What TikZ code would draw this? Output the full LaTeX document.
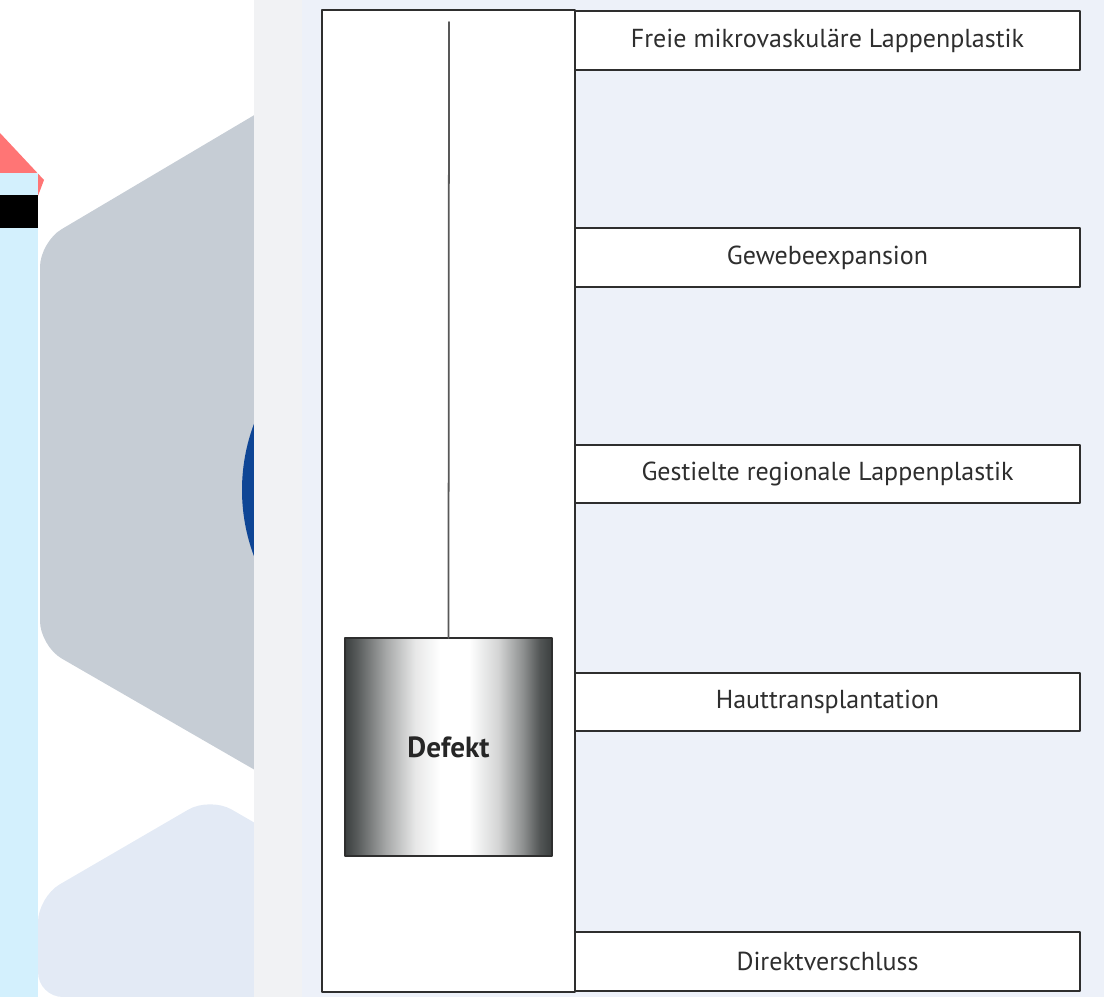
\documentclass[tikz,border=0pt]{standalone}
\usepackage{fontspec}
\setmainfont{PT Sans}
\definecolor{barblue}{HTML}{D3F0FD}
\definecolor{tipred}{HTML}{FF7575}
\definecolor{hexgray}{HTML}{C6CDD5}
\definecolor{hexlight}{HTML}{E3EAF5}
\definecolor{dotblue}{HTML}{0E4595}
\definecolor{panelgray}{HTML}{F1F2F4}
\definecolor{panelblue}{HTML}{EDF1F9}
\definecolor{rim}{HTML}{2E2E2E}
\definecolor{shade}{HTML}{3B3F3F}
\pgfdeclarehorizontalshading{defektshade}{100bp}{color(0bp)=(shade); color(25bp)=(shade);
	color(28bp)=(shade!85); color(35bp)=(shade!45); color(42bp)=(shade!12); color(48bp)=(white);
	color(55bp)=(white); color(62bp)=(shade!22); color(68bp)=(shade!58); color(72bp)=(shade!88);
	color(75bp)=(shade); color(100bp)=(shade)}
\tikzset{
	stufe/.style={draw=rim,line width=1.2pt,fill=white,inner sep=0pt,outer sep=0pt,
		minimum width=10.1cm,minimum height=1.17cm,text=rim,font=\fontsize{14.8}{16}\selectfont},
	saeule/.style={draw=rim,line width=1.5pt,fill=white,inner sep=0pt,outer sep=0pt,
		minimum width=5.06cm,minimum height=19.64cm},
	defektbox/.style={draw=rim,line width=1pt,inner sep=0pt,outer sep=0pt,
		minimum width=4.14cm,minimum height=4.36cm,shading=defektshade,
		font=\fontsize{16.6}{18}\selectfont\bfseries,text=black!85}
}
\begin{document}
\begin{tikzpicture}[x=0.02cm,y=-0.02cm,line join=round,line cap=round]
			\useasboundingbox (0,0) rectangle (1117,997);
			% Hintergrund links
			\fill[tipred] (0,133)--(44,180)--(38,196)--(0,196)--cycle;
			\fill[barblue] (0,173) rectangle (38,997);
			\fill[black] (0,195) rectangle (38,228);
			\fill[hexgray,rounded corners=0.5cm] (300,88)--(40,242)--(40,646)--(300,796)--cycle;
			\fill[hexlight,rounded corners=0.5cm] (38,897)--(210,797)--(300,849)--(300,997)--(38,997)--cycle;
			\fill[dotblue] (430,490) circle (188);
			% Tafel
			\fill[panelgray] (254,0) rectangle (302,997);
			\fill[panelblue] (302,0) rectangle (1104,997);
			% Schema
			\node[saeule] (S) at (448.5,501) {};
			\node[stufe] (L1) at (827.5,40.5) {Freie mikrovaskuläre Lappenplastik};
			\node[stufe] (L2) at (827.5,257.5) {Gewebeexpansion};
			\node[stufe] (L3) at (827.5,474) {Gestielte regionale Lappenplastik};
			\node[stufe] (L4) at (827.5,702) {Hauttransplantation};
			\node[stufe] (L5) at (827.5,961.5) {Direktverschluss};
			\node[defektbox] (D) at (448.5,747) {Defekt};
			\coordinate (top) at (449,22);
			\draw[rim!80,line width=1pt] (top)--(D.north);
\end{tikzpicture}
\end{document}
